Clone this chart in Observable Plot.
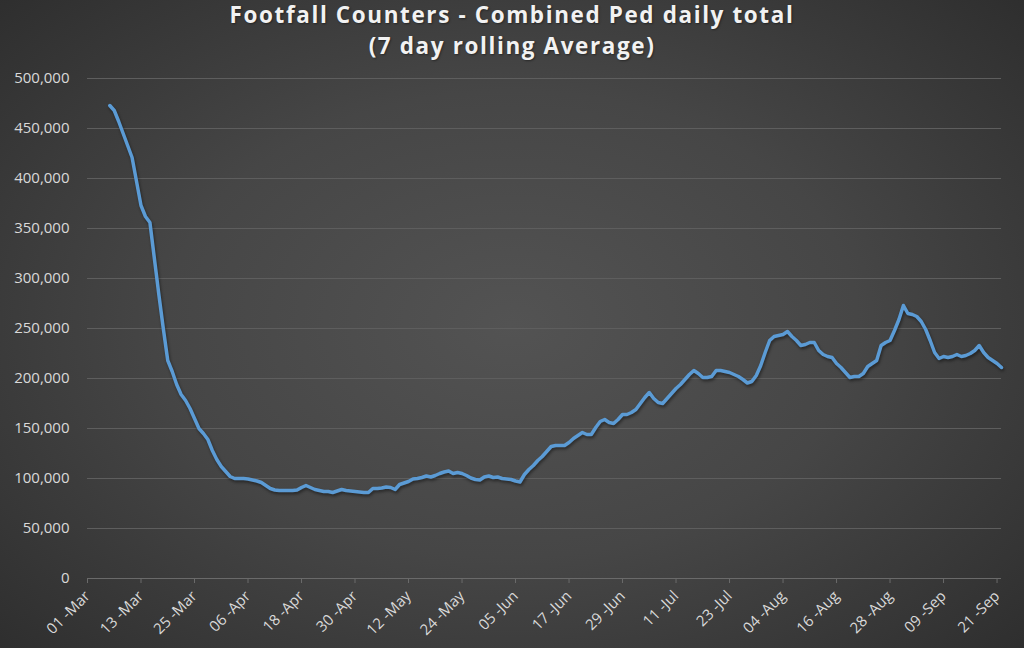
<!DOCTYPE html>
<html><head><meta charset="utf-8">
<script src="https://cdn.jsdelivr.net/npm/d3@7"></script>
<script src="https://cdn.jsdelivr.net/npm/@observablehq/plot@0.6"></script>
<style>
html,body{margin:0;padding:0;background:#2a2a2a;}
#wrap{width:1024px;height:648px;background:radial-gradient(ellipse 75% 80% at 50% 50%, #535353 0%, #464646 45%, #2a2a2a 100%);overflow:hidden;}
#title{height:60px;text-align:center;color:#f2f2f2;font-family:"Open Sans",sans-serif;font-weight:700;font-size:22.5px;letter-spacing:1.6px;line-height:31px;text-shadow:1px 1px 2px rgba(0,0,0,0.4);}
#title div{position:relative;top:-1px;}
</style></head>
<body><div id="wrap"><div id="title"><div>Footfall Counters - Combined Ped daily total</div><div>(7 day rolling Average)</div></div><div id="chart"></div></div>
<script>
const startDate = "2020-03-06";
const values = [
473000,468000,457000,445000,433000,421000,397000,373000,362000,356000,
320000,284000,250000,218000,207000,194000,184000,178000,170000,160000,
150000,145000,139000,128000,119000,112000,107000,102000,100000,100000,
100000,99500,98500,97500,96000,93000,90000,88500,88000,88000,
88000,88000,88500,91000,93000,91000,89000,88000,87000,87000,
86000,87500,89000,88000,87500,87000,86500,86000,86000,90000,
90000,90500,91500,91000,89000,94000,95500,97000,99500,100000,
101000,102500,101500,103000,105000,106500,107500,105000,106000,105000,
103000,100500,99000,98500,101500,102500,101000,101500,100000,99500,
99000,97500,96500,104000,109000,113000,118000,122000,127000,132000,
133000,133000,133000,136000,140000,143000,146000,144000,144000,151000,
157000,159000,156000,155000,159000,164000,164000,166000,169000,175000,
181000,186000,180000,176000,175000,180000,185000,190000,194000,199000,
204000,208000,205000,201000,201000,202000,208000,208000,207000,206000,
204000,202000,199000,195500,197000,203000,213000,226000,238000,242000,
243000,244000,247000,242000,238000,233000,234000,236000,236000,228000,
224000,222000,221000,215000,211000,206000,201000,202000,202000,205000,
212000,215000,218000,233000,236000,238000,248000,259000,273000,265000,
264000,262000,257000,249000,238000,226000,220000,222000,221000,222000,
224000,222000,223000,225000,228000,233000,226000,221000,218000,215000,
211000
];
const xTicks = ["2020-03-01","2020-03-13","2020-03-25","2020-04-06","2020-04-18","2020-04-30","2020-05-12","2020-05-24","2020-06-05","2020-06-17","2020-06-29","2020-07-11","2020-07-23","2020-08-04","2020-08-16","2020-08-28","2020-09-09","2020-09-21"];
const yTicks = [0,50000,100000,150000,200000,250000,300000,350000,400000,450000,500000];
const xDomain = ["2020-03-01","2020-09-22"];

const start = new Date(startDate);
const data = values.map((v,i)=>({date:d3.utcDay.offset(start,i), value:v}));

const chart = Plot.plot({
  width:1024, height:588,
  marginTop:18, marginBottom:70, marginLeft:87, marginRight:23,
  style:{background:"transparent", fontFamily:"'Open Sans',sans-serif", fontSize:"15px", color:"#d9d9d9", overflow:"visible"},
  x:{type:"utc", domain:xDomain.map(d=>new Date(d))},
  y:{domain:[0,500000]},
  marks:[
    Plot.ruleY(yTicks.filter(d=>d>0), {stroke:"#5e5e5e", strokeWidth:1}),
    Plot.ruleY([0], {stroke:"#6a6a6a", strokeWidth:1}),
    Plot.axisY({ticks:yTicks, tickSize:0, tickPadding:18, tickFormat:d3.format(","), label:null, fill:"#d9d9d9", fontSize:15}),
    Plot.axisX({ticks:xTicks.map(d=>new Date(d)), tickSize:5, tickPadding:10, tickRotate:-45, tickFormat:d3.utcFormat("%d -%b"), label:null, stroke:"#6a6a6a", fill:"#d9d9d9", fontSize:15}),
    Plot.lineY(data, {x:"date", y:"value", stroke:"#5b9bd5", strokeWidth:3.5, strokeLinejoin:"round", strokeLinecap:"round"})
  ]
});
document.getElementById("chart").appendChild(chart);
chart.querySelectorAll('g[aria-label="line"] path').forEach(p=>p.style.filter="drop-shadow(1px 2px 1.5px rgba(0,0,0,0.45))");
</script>
</body></html>
